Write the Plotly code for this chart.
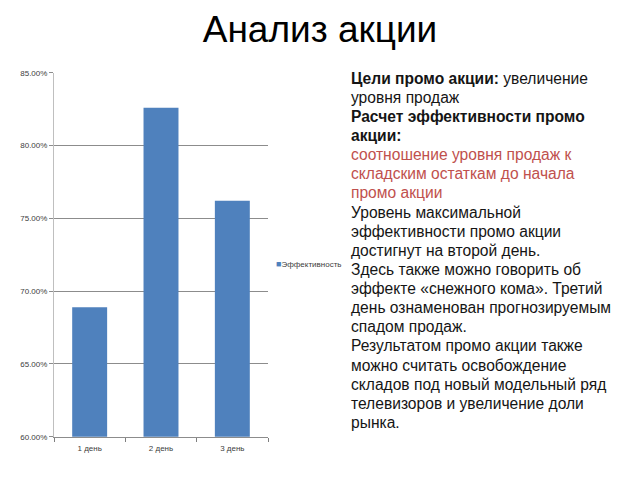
import plotly.graph_objects as go

categories = ["1 день", "2 день", "3 день"]
efficiency = [0.689, 0.826, 0.762]
series_name = "Эффективность"
title_text = "Анализ акции"

W, H = 640, 480
def px(x):
    return x / W
def py(y):
    return 1 - y / H

FONT = "Liberation Sans, Arial, sans-serif"
BAR = "#4f81bd"

fig = go.Figure()
fig.add_trace(go.Bar(
    x=categories, y=efficiency, name=series_name,
    marker=dict(color=BAR, line=dict(width=0)),
    width=0.49, showlegend=False,
))

red = "#c0504d"
lines = [
    "<b>Цели промо акции:</b> увеличение",
    "уровня продаж",
    "<b>Расчет эффективности промо</b>",
    "<b>акции:</b>",
    f"<span style='color:{red}'>соотношение уровня продаж к</span>",
    f"<span style='color:{red}'>складским остаткам до начала</span>",
    f"<span style='color:{red}'>промо акции</span>",
    "Уровень максимальной",
    "эффективности промо акции",
    "достигнут на второй день.",
    "Здесь также можно говорить об",
    "эффекте «снежного кома». Третий",
    "день ознаменован прогнозируемым",
    "спадом продаж.",
    "Результатом промо акции также",
    "можно считать освобождение",
    "складов под новый модельный ряд",
    "телевизоров и увеличение доли",
    "рынка.",
]

line_top, line_step = 75.5, 19.5
for i, ln in enumerate(lines):
    fig.add_annotation(
        x=px(349), y=py(line_top + i * line_step), xref="paper", yref="paper",
        xanchor="left", yanchor="middle", align="left", showarrow=False,
        text=ln,
        font=dict(family=FONT, size=15.6, color="#151515"),
    )

# legend drawn as a small keyed label
fig.add_annotation(
    x=px(274), y=py(265), xref="paper", yref="paper",
    xanchor="left", yanchor="middle", showarrow=False,
    text=f"<span style='color:{BAR};font-size:9px'>■</span>{series_name}",
    font=dict(family=FONT, size=8, color="#404040"),
)

fig.update_layout(
    width=W, height=H,
    margin=dict(l=0, r=0, t=0, b=0),
    paper_bgcolor="white", plot_bgcolor="white",
    title=dict(text=title_text, x=0.5, xanchor="center", y=py(29), yanchor="middle",
               font=dict(family=FONT, size=37, color="#000000")),
    showlegend=False,
    xaxis=dict(domain=[px(54), px(268)], showgrid=False, ticks="outside",
               tickson="boundaries", ticklen=4, tickcolor="#7f7f7f",
               showline=True, linecolor="#8c8c8c", linewidth=1,
               ticklabelstandoff=4,
               tickfont=dict(family=FONT, size=8, color="#404040")),
    yaxis=dict(domain=[py(441), py(70)], range=[0.60, 0.85], dtick=0.05,
               tickformat=".2%", showgrid=True, gridcolor="#8c8c8c", gridwidth=1,
               showline=True, linecolor="#bfbfbf", linewidth=1, ticks="outside",
               ticklen=4, tickcolor="#8c8c8c", zeroline=False,
               tickfont=dict(family=FONT, size=8, color="#404040")),
)

fig.write_html("out.html")
